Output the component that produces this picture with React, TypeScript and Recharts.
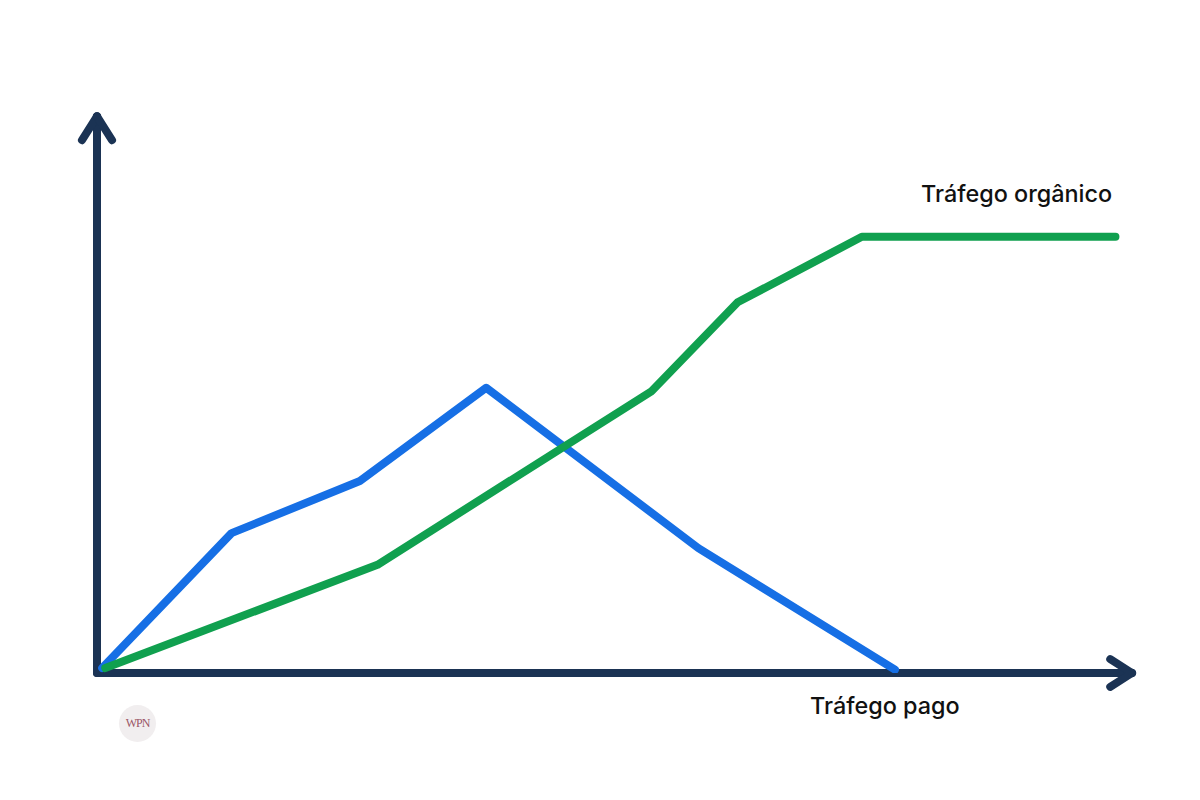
import { LineChart, Line, XAxis, YAxis, ReferenceLine } from 'recharts';

// tempo (eixo x, 0-100) e tráfego (eixo y, 0-100)
const pagoX = [0.5, 13.0, 25.4, 37.6, 58.1, 77.1];
const pagoY = [0.9, 25.2, 34.6, 51.4, 22.5, 0.6];
const organicoX = [0.8, 27.1, 53.6, 61.9, 73.9, 98.4];
const organicoY = [0.9, 19.5, 50.8, 66.8, 78.6, 78.6];

const LABEL_ORGANICO = 'Tráfego orgânico';
const LABEL_PAGO = 'Tráfego pago';

const pagoData = pagoX.map((x, i) => ({ x, y: pagoY[i] }));
const organicoData = organicoX.map((x, i) => ({ x, y: organicoY[i] }));

const AXIS = '#1b3354';
const BLUE = '#166fe5';
const GREEN = '#10a04f';

const axisProps = {
  stroke: AXIS,
  strokeWidth: 8,
  strokeLinecap: 'round' as const,
  ifOverflow: 'visible' as const,
};

const textStyle: React.CSSProperties = {
  position: 'absolute',
  fontFamily: 'Inter, "Noto Sans", sans-serif',
  fontSize: 23.4,
  fontWeight: 500,
  color: '#111',
  whiteSpace: 'nowrap',
  lineHeight: '28px',
};

export default function App() {
  return (
    <div style={{ position: 'absolute', left: 0, top: 0, width: 1200, height: 800, background: '#fff' }}>
      <LineChart width={1200} height={800} margin={{ top: 118, right: 68, bottom: 127, left: 97 }}>
        <XAxis type="number" dataKey="x" domain={[0, 100]} hide allowDataOverflow />
        <YAxis type="number" dataKey="y" domain={[0, 100]} hide allowDataOverflow />
        <ReferenceLine segment={[{ x: 0, y: 0 }, { x: 100, y: 0 }]} {...axisProps} />
        <ReferenceLine segment={[{ x: 0, y: 0 }, { x: 0, y: 100.3 }]} {...axisProps} />
        <ReferenceLine segment={[{ x: 100, y: 0 }, { x: 97.9, y: 2.5 }]} {...axisProps} />
        <ReferenceLine segment={[{ x: 100, y: 0 }, { x: 97.9, y: -2.5 }]} {...axisProps} />
        <ReferenceLine segment={[{ x: 0, y: 100.3 }, { x: -1.45, y: 96 }]} {...axisProps} />
        <ReferenceLine segment={[{ x: 0, y: 100.3 }, { x: 1.45, y: 96 }]} {...axisProps} />
        <Line
          data={pagoData}
          dataKey="y"
          type="linear"
          stroke={BLUE}
          strokeWidth={8}
          strokeLinecap="round"
          strokeLinejoin="round"
          dot={false}
          activeDot={false}
          isAnimationActive={false}
        />
        <Line
          data={organicoData}
          dataKey="y"
          type="linear"
          stroke={GREEN}
          strokeWidth={8}
          strokeLinecap="round"
          strokeLinejoin="round"
          dot={false}
          activeDot={false}
          isAnimationActive={false}
        />
      </LineChart>
      <div style={{ ...textStyle, left: 921, top: 180 }}>{LABEL_ORGANICO}</div>
      <div style={{ ...textStyle, left: 810, top: 692 }}>{LABEL_PAGO}</div>
      <div
        style={{
          position: 'absolute',
          left: 119,
          top: 705,
          width: 37,
          height: 37,
          borderRadius: '50%',
          background: '#f1eeef',
          color: '#9a5566',
          fontFamily: '"Liberation Serif", serif',
          fontSize: 12,
          display: 'flex',
          alignItems: 'center',
          justifyContent: 'center',
          letterSpacing: -1,
        }}
      >
        WPN
      </div>
    </div>
  );
}
